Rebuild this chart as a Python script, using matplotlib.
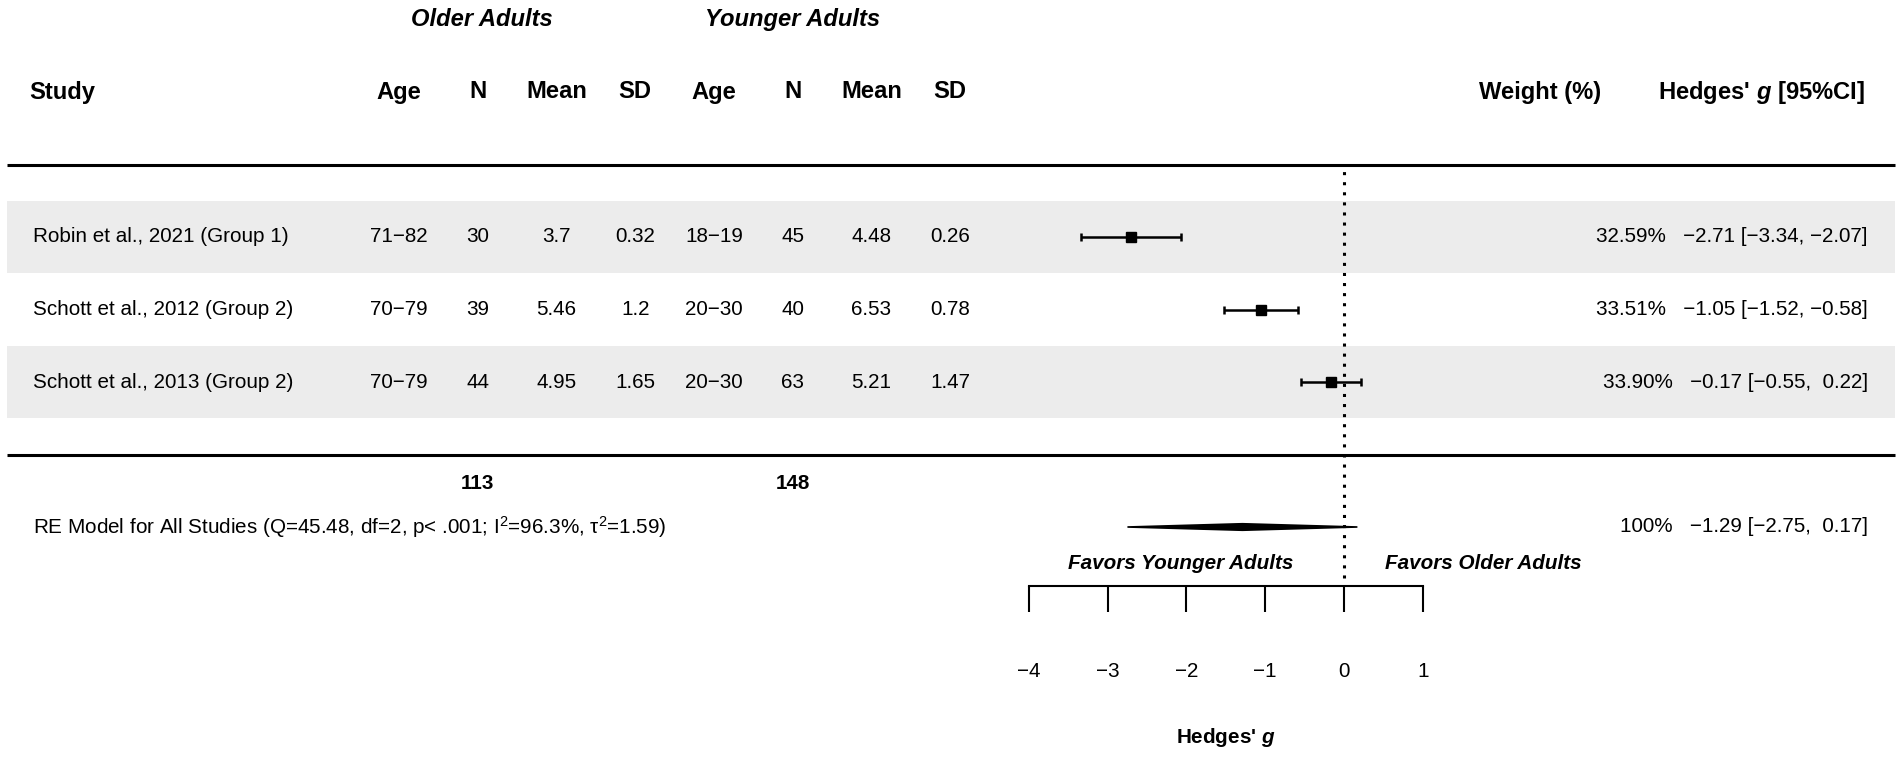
import matplotlib
matplotlib.use("Agg")
import matplotlib.pyplot as plt
import numpy as np

# ---------------- data ----------------
studies = ["Robin et al., 2021 (Group 1)",
           "Schott et al., 2012 (Group 2)",
           "Schott et al., 2013 (Group 2)"]
old_age = ["71-82", "70-79", "70-79"]
old_n = [30, 39, 44]
old_mean = [3.7, 5.46, 4.95]
old_sd = [0.32, 1.2, 1.65]
young_age = ["18-19", "20-30", "20-30"]
young_n = [45, 40, 63]
young_mean = [4.48, 6.53, 5.21]
young_sd = [0.26, 0.78, 1.47]
weights = [32.59, 33.51, 33.90]
g_est = [-2.71, -1.05, -0.17]
g_lo = [-3.34, -1.52, -0.55]
g_hi = [-2.07, -0.58, 0.22]
re_est, re_lo, re_hi = -1.29, -2.75, 0.17
re_Q, re_df, re_p, re_I2, re_tau2 = 45.48, 2, "< .001", 96.3, 1.59
xticks = [-4, -3, -2, -1, 0, 1]
col_headers = ["Age", "N", "Mean", "SD", "Age", "N", "Mean", "SD"]

# ---------------- style ----------------
plt.rcParams['font.family'] = ['Liberation Sans', 'DejaVu Sans']
plt.rcParams['mathtext.fontset'] = 'custom'
plt.rcParams['mathtext.rm'] = 'Liberation Sans'
plt.rcParams['mathtext.it'] = 'Liberation Sans:italic:bold'
plt.rcParams['mathtext.bf'] = 'Liberation Sans:bold'

FS = 14.9      # body text
FH = 17.1      # header text
GREY = "#ECECEC"

def fmt(v):
    return f"{v}".replace("-", "\u2212")

fig = plt.figure(figsize=(19.02, 7.59), dpi=100)
ax = fig.add_axes([0, 0, 1, 1])
ax.set_xlim(-1344 / 78.75, 558 / 78.75)
ax.set_ylim(3 - 522 / 72.5, 3 + 237 / 72.5)

for s in ["top", "left", "right"]:
    ax.spines[s].set_visible(False)
ax.yaxis.set_visible(False)
ax.patch.set_visible(False)

x_left, x_right = -16.98, 7.0
rows = [3, 2, 1]
col_x = [-12, -11, -10, -9, -8, -7, -6, -5]

# shaded bands for alternating rows
for i, y in enumerate(rows):
    if i % 2 == 0:
        ax.barh(y, x_right - x_left, left=x_left, height=1.0, color=GREY,
                edgecolor="none", zorder=0)

# horizontal rules
ax.hlines([4.0, 0.0], x_left, x_right, colors="black", lw=2.2, zorder=2)

# reference line
ax.vlines(0, -1.7, 4.0, colors="black", lw=2.2, linestyles=(0, (1, 2.3)), zorder=1)

# study estimates
ax.errorbar(g_est, rows,
            xerr=[np.array(g_est) - np.array(g_lo), np.array(g_hi) - np.array(g_est)],
            fmt="s", color="black", ms=7.8, elinewidth=1.8, capsize=2.6,
            capthick=1.8, zorder=3)

# summary diamond
h = 0.045
ax.fill([re_lo, re_est, re_hi, re_est], [-1, -1 + h, -1, -1 - h],
        facecolor="black", edgecolor="black", lw=1.2, zorder=3)

# headers
ax.text(-16.7, 5.0, "Study", fontsize=FH, fontweight="bold", ha="left", va="center")
for x, t in zip(col_x, col_headers):
    ax.text(x, 5.0, t, fontsize=FH, fontweight="bold", ha="center", va="center")
ax.text(-10.95, 6.0, "Older Adults", fontsize=FH, fontweight="bold",
        fontstyle="italic", ha="center", va="center")
ax.text(-7.0, 6.0, "Younger Adults", fontsize=FH, fontweight="bold",
        fontstyle="italic", ha="center", va="center")
ax.text(2.49, 5.0, "Weight (%)", fontsize=FH, fontweight="bold", ha="center", va="center")
ax.text(6.62, 5.0, r"Hedges' $\mathit{g}$ [95%CI]", fontsize=FH, fontweight="bold",
        ha="right", va="center")

# table rows
for i, y in enumerate(rows):
    ax.text(-16.65, y, studies[i], fontsize=FS, ha="left", va="center")
    vals = [fmt(old_age[i]), str(old_n[i]), str(old_mean[i]), str(old_sd[i]),
            fmt(young_age[i]), str(young_n[i]), str(young_mean[i]), str(young_sd[i])]
    for x, v in zip(col_x, vals):
        ax.text(x, y, v, fontsize=FS, ha="center", va="center")
    ann = f"{weights[i]:.2f}%   {g_est[i]:5.2f} [{g_lo[i]:5.2f}, {g_hi[i]:5.2f}]"
    ax.text(6.65, y, fmt(ann), fontsize=FS, ha="right", va="center")

# totals
ax.text(-11, -0.4, str(sum(old_n)), fontsize=FS, fontweight="bold", ha="center", va="center")
ax.text(-7, -0.4, str(sum(young_n)), fontsize=FS, fontweight="bold", ha="center", va="center")

# summary row
re_label = (f"RE Model for All Studies (Q={re_Q:.2f}, df={re_df}, p{re_p}; "
            r"$\mathrm{I}^{2}$" + f"={re_I2:.1f}%, " + r"$\mathrm{\u03c4}^{2}$"
            + f"={re_tau2:.2f})")
re_label = re_label.replace(r"\u03c4", "\u03c4")
ax.text(-16.65, -1.0, re_label, fontsize=FS, ha="left", va="center")
ann = f"100%   {re_est:5.2f} [{re_lo:5.2f}, {re_hi:5.2f}]"
ax.text(6.65, -1.0, fmt(ann), fontsize=FS, ha="right", va="center")

# favours labels
ax.text(-2.08, -1.5, "Favors Younger Adults", fontsize=FS, fontweight="bold",
        fontstyle="italic", ha="center", va="center")
ax.text(1.77, -1.5, "Favors Older Adults", fontsize=FS, fontweight="bold",
        fontstyle="italic", ha="center", va="center")

# x axis
ax.spines["bottom"].set_position(("data", 3 - 349 / 72.5))
ax.spines["bottom"].set_bounds(min(xticks), max(xticks))
ax.spines["bottom"].set_linewidth(1.5)
ax.set_xticks(xticks)
ax.tick_params(axis="x", direction="out", length=18.7, width=1.5,
               pad=36, labelsize=FS)
ax.text(np.mean([min(xticks), max(xticks)]), -3.9, r"Hedges' $\mathit{g}$",
        fontsize=FS, fontweight="bold", ha="center", va="center")

fig.savefig("out.png", dpi=100)
